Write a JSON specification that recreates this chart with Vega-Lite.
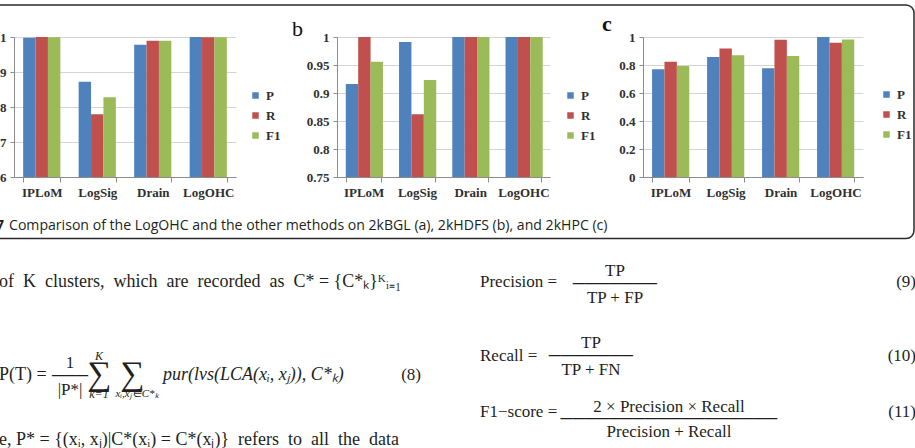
{
  "$schema": "https://vega.github.io/schema/vega-lite/v6.json",
  "padding": {"left": -32, "top": 4, "right": 0, "bottom": 0},
  "background": "white",
  "data": {
    "values": [
      {"panel": "a", "method": "IPLoM", "metric": "P", "value": 0.998},
      {"panel": "a", "method": "IPLoM", "metric": "R", "value": 1.0},
      {"panel": "a", "method": "IPLoM", "metric": "F1", "value": 0.999},
      {"panel": "a", "method": "LogSig", "metric": "P", "value": 0.872},
      {"panel": "a", "method": "LogSig", "metric": "R", "value": 0.779},
      {"panel": "a", "method": "LogSig", "metric": "F1", "value": 0.828},
      {"panel": "a", "method": "Drain", "metric": "P", "value": 0.978},
      {"panel": "a", "method": "Drain", "metric": "R", "value": 0.989},
      {"panel": "a", "method": "Drain", "metric": "F1", "value": 0.989},
      {"panel": "a", "method": "LogOHC", "metric": "P", "value": 1.0},
      {"panel": "a", "method": "LogOHC", "metric": "R", "value": 0.999},
      {"panel": "a", "method": "LogOHC", "metric": "F1", "value": 0.999},
      {"panel": "b", "method": "IPLoM", "metric": "P", "value": 0.916},
      {"panel": "b", "method": "IPLoM", "metric": "R", "value": 1.0},
      {"panel": "b", "method": "IPLoM", "metric": "F1", "value": 0.956},
      {"panel": "b", "method": "LogSig", "metric": "P", "value": 0.991},
      {"panel": "b", "method": "LogSig", "metric": "R", "value": 0.862},
      {"panel": "b", "method": "LogSig", "metric": "F1", "value": 0.923},
      {"panel": "b", "method": "Drain", "metric": "P", "value": 1.0},
      {"panel": "b", "method": "Drain", "metric": "R", "value": 1.0},
      {"panel": "b", "method": "Drain", "metric": "F1", "value": 1.0},
      {"panel": "b", "method": "LogOHC", "metric": "P", "value": 1.0},
      {"panel": "b", "method": "LogOHC", "metric": "R", "value": 1.0},
      {"panel": "b", "method": "LogOHC", "metric": "F1", "value": 1.0},
      {"panel": "c", "method": "IPLoM", "metric": "P", "value": 0.769},
      {"panel": "c", "method": "IPLoM", "metric": "R", "value": 0.824},
      {"panel": "c", "method": "IPLoM", "metric": "F1", "value": 0.793},
      {"panel": "c", "method": "LogSig", "metric": "P", "value": 0.858},
      {"panel": "c", "method": "LogSig", "metric": "R", "value": 0.918},
      {"panel": "c", "method": "LogSig", "metric": "F1", "value": 0.87},
      {"panel": "c", "method": "Drain", "metric": "P", "value": 0.776},
      {"panel": "c", "method": "Drain", "metric": "R", "value": 0.981},
      {"panel": "c", "method": "Drain", "metric": "F1", "value": 0.865},
      {"panel": "c", "method": "LogOHC", "metric": "P", "value": 1.0},
      {"panel": "c", "method": "LogOHC", "metric": "R", "value": 0.959},
      {"panel": "c", "method": "LogOHC", "metric": "F1", "value": 0.983}
    ]
  },
  "vconcat": [
    {
      "vconcat": [
        {
          "width": 923,
          "height": 233.5,
          "view": {"stroke": "#2b2b2b", "strokeWidth": 1.5, "fill": null, "cornerRadius": 8},
          "data": {"values": [{"label": ""}]},
          "mark": {"type": "text"},
          "encoding": {"text": {"field": "label"}}
        }
      ],
      "bounds": "flush"
    },
    {
      "hconcat": [
        {
          "vconcat": [
            {
              "width": 1,
              "height": 1,
              "data": {"values": [{"label": ""}]},
              "mark": {"type": "text"},
              "encoding": {"text": {"field": "label"}}
            }
          ],
          "bounds": "flush"
        },
        {
          "hconcat": [
            {
              "vconcat": [
                {
                  "width": 222,
                  "height": 140,
                  "transform": [{"filter": "datum.panel === 'a'"}],
                  "mark": {"type": "bar", "clip": true},
                  "encoding": {
                    "x": {"field": "method", "type": "nominal", "sort": ["IPLoM", "LogSig", "Drain", "LogOHC"], "title": null, "scale": {"paddingInner": 0.33, "paddingOuter": 0.165}},
                    "xOffset": {"field": "metric", "type": "nominal", "sort": ["P", "R", "F1"], "scale": {"paddingInner": 0, "paddingOuter": 0}},
                    "y": {"field": "value", "type": "quantitative", "title": null, "scale": {"domain": [0.6, 1], "nice": false, "zero": false}, "axis": {"values": [0.6, 0.7, 0.8, 0.9, 1], "format": "~g"}},
                    "color": {"field": "metric", "type": "nominal", "sort": ["P", "R", "F1"], "scale": {"domain": ["P", "R", "F1"], "range": ["#4F81BD", "#C0504D", "#9BBB59"]}, "legend": {"title": null, "orient": "none", "legendX": 235, "legendY": 52}}
                  }
                },
                {
                  "width": 902,
                  "height": 224,
                  "data": {
                    "values": [
                      {"part": "fig", "col": "left", "line": "r00", "text": "Fig. 7"},
                      {"part": "caption", "col": "left", "line": "r00", "text": "Comparison of the LogOHC and the other methods on 2kBGL (a), 2kHDFS (b), and 2kHPC (c)"},
                      {"part": "body", "col": "left", "line": "r06", "text": "of \u00a0K \u00a0clusters, \u00a0which \u00a0are \u00a0recorded \u00a0as \u00a0C* = {C*ₖ}ᴷᵢ₌₁"},
                      {"part": "body", "col": "left", "line": "r16", "text": "P(T) ="},
                      {"part": "body", "col": "left", "line": "r23", "text": "e, P* = {(xᵢ, xⱼ)|C*(xᵢ) = C*(xⱼ)} \u00a0refers \u00a0to \u00a0all \u00a0the \u00a0data"},
                      {"part": "rlabel", "col": "right", "line": "r06", "text": "Precision ="},
                      {"part": "rlabel", "col": "right", "line": "r14", "text": "Recall ="},
                      {"part": "rlabel", "col": "right", "line": "r20", "text": "F1−score ="},
                      {"part": "tag", "col": "right", "line": "r06", "text": "(9)"},
                      {"part": "tag", "col": "right", "line": "r14", "text": "(10)"},
                      {"part": "tag", "col": "right", "line": "r20", "text": "(11)"},
                      {"part": "tag8", "col": "left", "line": "r16", "text": "(8)"},
                      {"part": "frac9", "col": "right", "line": "r06", "text": "TP\n───────\nTP + FP"},
                      {"part": "frac10", "col": "right", "line": "r14", "text": "TP\n───────\nTP + FN"},
                      {"part": "frac11", "col": "right", "line": "r21", "text": "2 × Precision × Recall\n──────────────────\nPrecision + Recall"},
                      {"part": "frac8", "col": "left", "line": "r16", "text": "1\n───\n|P*|"},
                      {"part": "sum1", "col": "left", "line": "r16", "text": "∑"},
                      {"part": "sum2", "col": "left", "line": "r16", "text": "∑"},
                      {"part": "lim1", "col": "left", "line": "r14", "text": "K"},
                      {"part": "lim1", "col": "left", "line": "r18", "text": "k=1"},
                      {"part": "lim2", "col": "left", "line": "r18", "text": "xᵢ,xⱼ∈C*ₖ"},
                      {"part": "pur", "col": "left", "line": "r16", "text": "pur(lvs(LCA(xᵢ, xⱼ)), C*ₖ)"}
                    ]
                  },
                  "encoding": {
                    "x": {"field": "col", "type": "nominal", "bandPosition": 0, "axis": null, "scale": {"type": "band", "domain": ["left", "right"], "paddingInner": 0.0644, "paddingOuter": 0}},
                    "y": {"field": "line", "type": "ordinal", "bandPosition": 0.5, "axis": null, "scale": {"type": "band", "domain": ["r00", "r01", "r02", "r03", "r04", "r05", "r06", "r07", "r08", "r09", "r10", "r11", "r12", "r13", "r14", "r15", "r16", "r17", "r18", "r19", "r20", "r21", "r22", "r23"], "paddingInner": 0, "paddingOuter": 0}},
                    "text": {"field": "text"}
                  },
                  "layer": [
                    {"transform": [{"filter": "datum.part === 'fig'"}], "mark": {"type": "text", "align": "right", "baseline": "middle", "dx": -10, "font": "Open Sans", "fontSize": 14.1, "fontWeight": "bold", "color": "#231f20"}},
                    {"transform": [{"filter": "datum.part === 'caption'"}], "mark": {"type": "text", "align": "left", "baseline": "middle", "dx": -5, "font": "Open Sans", "fontSize": 14.1, "color": "#231f20"}},
                    {"transform": [{"filter": "datum.part === 'body'"}], "mark": {"type": "text", "align": "left", "baseline": "middle", "dx": -15, "font": "Liberation Serif", "fontSize": 18, "color": "#231f20"}},
                    {"transform": [{"filter": "datum.part === 'rlabel'"}], "mark": {"type": "text", "align": "left", "baseline": "middle", "dx": 0, "font": "Liberation Serif", "fontSize": 17, "color": "#231f20"}},
                    {"transform": [{"filter": "datum.part === 'tag'"}], "mark": {"type": "text", "align": "right", "baseline": "middle", "font": "Liberation Serif", "fontSize": 17, "color": "#231f20"}, "encoding": {"x": {"field": "col", "type": "nominal", "bandPosition": 1, "axis": null}}},
                    {"transform": [{"filter": "datum.part === 'tag8'"}], "mark": {"type": "text", "align": "right", "baseline": "middle", "dx": -29, "font": "Liberation Serif", "fontSize": 17, "color": "#231f20"}, "encoding": {"x": {"field": "col", "type": "nominal", "bandPosition": 1, "axis": null}}},
                    {"transform": [{"filter": "datum.part === 'frac9'"}], "mark": {"type": "text", "align": "center", "baseline": "middle", "dx": 135, "dy": -11, "lineBreak": "\n", "lineHeight": 13.5, "font": "Liberation Serif", "fontSize": 17, "color": "#231f20"}},
                    {"transform": [{"filter": "datum.part === 'frac10'"}], "mark": {"type": "text", "align": "center", "baseline": "middle", "dx": 111, "dy": -13.5, "lineBreak": "\n", "lineHeight": 13.5, "font": "Liberation Serif", "fontSize": 17, "color": "#231f20"}},
                    {"transform": [{"filter": "datum.part === 'frac11'"}], "mark": {"type": "text", "align": "center", "baseline": "middle", "dx": 189, "dy": -15, "lineBreak": "\n", "lineHeight": 12.5, "font": "Liberation Serif", "fontSize": 17, "color": "#231f20"}},
                    {"transform": [{"filter": "datum.part === 'frac8'"}], "mark": {"type": "text", "align": "center", "baseline": "middle", "dx": 56, "dy": -12.3, "lineBreak": "\n", "lineHeight": 13.5, "font": "Liberation Serif", "fontSize": 17, "color": "#231f20"}},
                    {"transform": [{"filter": "datum.part === 'sum1'"}], "mark": {"type": "text", "align": "center", "baseline": "middle", "dx": 85, "font": "Liberation Serif", "fontSize": 34, "color": "#231f20"}},
                    {"transform": [{"filter": "datum.part === 'sum2'"}], "mark": {"type": "text", "align": "center", "baseline": "middle", "dx": 118, "font": "Liberation Serif", "fontSize": 34, "color": "#231f20"}},
                    {"transform": [{"filter": "datum.part === 'lim1'"}], "mark": {"type": "text", "align": "center", "baseline": "middle", "dx": 85, "font": "Liberation Serif", "fontSize": 12, "fontStyle": "italic", "color": "#231f20"}},
                    {"transform": [{"filter": "datum.part === 'lim2'"}], "mark": {"type": "text", "align": "center", "baseline": "middle", "dx": 123, "font": "Liberation Serif", "fontSize": 11, "fontStyle": "italic", "color": "#231f20"}},
                    {"transform": [{"filter": "datum.part === 'pur'"}], "mark": {"type": "text", "align": "left", "baseline": "middle", "dx": 149, "font": "Liberation Serif", "fontSize": 18, "fontStyle": "italic", "color": "#231f20"}}
                  ]
                }
              ],
              "spacing": 44,
              "bounds": "flush",
              "resolve": {"scale": {"color": "independent", "y": "independent", "x": "independent"}, "legend": {"color": "independent"}}
            },
            {
              "hconcat": [
                {
                  "width": 213,
                  "height": 140,
                  "title": {"text": "b", "anchor": "start", "frame": "group", "dx": -45, "dy": 27, "fontSize": 22, "font": "Liberation Serif", "fontWeight": "normal", "offset": 0, "baseline": "alphabetic", "color": "#111111"},
                  "transform": [{"filter": "datum.panel === 'b'"}],
                  "mark": {"type": "bar", "clip": true},
                  "encoding": {
                    "x": {"field": "method", "type": "nominal", "sort": ["IPLoM", "LogSig", "Drain", "LogOHC"], "title": null, "scale": {"paddingInner": 0.33, "paddingOuter": 0.165}},
                    "xOffset": {"field": "metric", "type": "nominal", "sort": ["P", "R", "F1"], "scale": {"paddingInner": 0, "paddingOuter": 0}},
                    "y": {"field": "value", "type": "quantitative", "title": null, "scale": {"domain": [0.75, 1], "nice": false, "zero": false}, "axis": {"values": [0.75, 0.8, 0.85, 0.9, 0.95, 1], "format": "~g"}},
                    "color": {"field": "metric", "type": "nominal", "sort": ["P", "R", "F1"], "scale": {"domain": ["P", "R", "F1"], "range": ["#4F81BD", "#C0504D", "#9BBB59"]}, "legend": {"title": null, "orient": "none", "legendX": 227, "legendY": 52}}
                  }
                },
                {
                  "width": 220,
                  "height": 140,
                  "title": {"text": "c", "anchor": "start", "frame": "group", "dx": -41, "dy": 22, "fontSize": 22, "font": "Liberation Serif", "fontWeight": "bold", "offset": 0, "baseline": "alphabetic", "color": "#111111"},
                  "transform": [{"filter": "datum.panel === 'c'"}],
                  "mark": {"type": "bar", "clip": true},
                  "encoding": {
                    "x": {"field": "method", "type": "nominal", "sort": ["IPLoM", "LogSig", "Drain", "LogOHC"], "title": null, "scale": {"paddingInner": 0.33, "paddingOuter": 0.165}},
                    "xOffset": {"field": "metric", "type": "nominal", "sort": ["P", "R", "F1"], "scale": {"paddingInner": 0, "paddingOuter": 0}},
                    "y": {"field": "value", "type": "quantitative", "title": null, "scale": {"domain": [0, 1], "nice": false}, "axis": {"values": [0, 0.2, 0.4, 0.6, 0.8, 1], "format": "~g"}},
                    "color": {"field": "metric", "type": "nominal", "sort": ["P", "R", "F1"], "scale": {"domain": ["P", "R", "F1"], "range": ["#4F81BD", "#C0504D", "#9BBB59"]}, "legend": {"title": null, "orient": "none", "legendX": 237, "legendY": 51}}
                  }
                }
              ],
              "spacing": 93,
              "bounds": "flush",
              "resolve": {"scale": {"color": "independent", "y": "independent", "x": "independent"}, "legend": {"color": "independent"}}
            }
          ],
          "spacing": 323,
          "bounds": "flush",
          "resolve": {"scale": {"color": "independent", "y": "independent", "x": "independent"}, "legend": {"color": "independent"}}
        }
      ],
      "spacing": 23,
      "bounds": "flush",
      "resolve": {"scale": {"color": "independent", "y": "independent", "x": "independent"}, "legend": {"color": "independent"}}
    }
  ],
  "spacing": 32,
  "bounds": "flush",
  "resolve": {"scale": {"color": "independent", "y": "independent", "x": "independent"}, "legend": {"color": "independent"}},
  "config": {
    "view": {"stroke": null},
    "axis": {"labelFont": "Liberation Serif", "labelFontWeight": "bold", "labelFontSize": 13, "labelColor": "#303030", "domainColor": "#8c8c8c", "tickColor": "#8c8c8c", "gridColor": "#d4d4d4"},
    "axisX": {"grid": false, "tickSize": 5, "labelPadding": 4, "labelAngle": 0, "tickBand": "extent"},
    "axisY": {"tickSize": 4, "labelPadding": 4, "domain": true, "grid": true},
    "legend": {"symbolType": "square", "symbolSize": 42, "symbolStrokeWidth": 0, "labelFont": "Liberation Serif", "labelFontWeight": "bold", "labelFontSize": 13, "labelColor": "#303030", "rowPadding": 6, "labelOffset": 4, "padding": 0}
  }
}
